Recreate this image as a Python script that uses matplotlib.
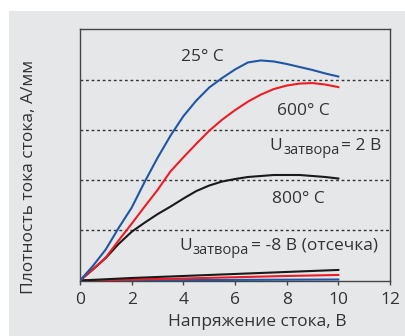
import matplotlib
matplotlib.use("Agg")
import matplotlib.pyplot as plt
from matplotlib.patches import Rectangle
from matplotlib.transforms import offset_copy

plt.rcParams['font.family'] = ['Open Sans', 'DejaVu Sans']

# Drain voltage, V
voltage = [0, 0.5, 1, 1.5, 2, 2.5, 3, 3.5, 4, 4.5, 5, 5.5, 6, 6.5, 7, 7.5, 8, 8.5, 9, 9.5, 10]
# U_gate = 2 V curves
on_25 = [0, 0.29, 0.62, 1.05, 1.45, 1.96, 2.44, 2.88, 3.27, 3.58, 3.84, 4.03, 4.2, 4.34, 4.38, 4.36, 4.31, 4.25, 4.19, 4.12, 4.06]
on_600 = [0, 0.22, 0.46, 0.8, 1.13, 1.47, 1.8, 2.17, 2.45, 2.72, 2.98, 3.2, 3.39, 3.56, 3.7, 3.81, 3.88, 3.92, 3.93, 3.9, 3.85]
on_800 = [0, 0.22, 0.45, 0.73, 0.97, 1.15, 1.32, 1.47, 1.63, 1.78, 1.89, 1.97, 2.02, 2.06, 2.08, 2.1, 2.1, 2.1, 2.08, 2.06, 2.03]
# U_gate = -8 V (cut-off)
off_voltage = [0, 2, 4, 6, 8, 10]
off_25 = [0, 0.004, 0.008, 0.012, 0.016, 0.02]
off_600 = [0, 0.02, 0.04, 0.065, 0.09, 0.11]
off_800 = [0, 0.05, 0.09, 0.13, 0.17, 0.21]

grid_levels = [1, 2, 3, 4]
xticks = [0, 2, 4, 6, 8, 10, 12]

BG = '#e6e7e8'
BLUE = '#1f56a5'
RED = '#ee1c25'
BLACK = '#1a1a1a'
TXT = '#333333'

fig = plt.figure(figsize=(4.06, 3.36), dpi=100, facecolor='white')
fig.patches.append(Rectangle((9/406, 0), 1 - 9/406, (336 - 11)/336,
                             transform=fig.transFigure, facecolor=BG,
                             edgecolor='none', zorder=-10))
ax = fig.add_axes([80/406, (336 - 280.5)/336, (390 - 80)/406, (280.5 - 29.3)/336])
ax.set_facecolor(BG)

for lv in grid_levels:
    ax.axhline(lv, color=TXT, lw=1.0, ls=(0, (2, 2)), zorder=1)

ax.plot(off_voltage, off_25, color=BLUE, lw=1.5, zorder=3)
ax.plot(off_voltage, off_600, color=RED, lw=1.5, zorder=3)
ax.plot(off_voltage, off_800, color=BLACK, lw=1.5, zorder=3)
ax.plot(voltage, on_800, color=BLACK, lw=1.5, zorder=3)
ax.plot(voltage, on_600, color=RED, lw=1.5, zorder=3)
ax.plot(voltage, on_25, color=BLUE, lw=1.5, zorder=3)

ax.set_xlim(0, 12)
ax.set_ylim(0, 5)
ax.set_xticks(xticks)
ax.set_yticks([])
ax.tick_params(axis='x', length=3, width=1, color='#444444', labelsize=12.5,
               labelcolor=TXT, pad=5)
for s in ax.spines.values():
    s.set_color('#444444')
    s.set_linewidth(1.0)

fs = 12.5
sub_fs = 10.5
ax.text(4.75, 4.45, '25° C', fontsize=fs, color=TXT, ha='center', va='center')
ax.text(8.65, 3.38, '600° C', fontsize=fs, color=TXT, ha='center', va='center')
ax.text(8.45, 1.62, '800° C', fontsize=fs, color=TXT, ha='center', va='center')

fig.canvas.draw()
renderer = fig.canvas.get_renderer()


def gate_label(x_left, y_base, rest):
    """Draw 'U' + subscript 'затвора' + rest, starting at data x_left, baseline y_base."""
    t1 = ax.text(x_left, y_base, 'U', fontsize=fs, color=TXT, ha='left', va='baseline')
    w1 = t1.get_window_extent(renderer).width * 72 / fig.dpi
    tr = offset_copy(ax.transData, fig=fig, x=w1 + 0.4, y=-3.0, units='points')
    t2 = ax.text(x_left, y_base, 'затвора', fontsize=sub_fs, color=TXT,
                 ha='left', va='baseline', transform=tr)
    w2 = t2.get_window_extent(renderer).width * 72 / fig.dpi
    tr3 = offset_copy(ax.transData, fig=fig, x=w1 + w2 + 1.6, y=0, units='points')
    ax.text(x_left, y_base, rest, fontsize=fs, color=TXT, ha='left', va='baseline',
            transform=tr3)


gate_label(7.35, 2.6, '= 2 B')
gate_label(3.85, 0.61, '= -8 B (отсечка)')

fig.text(257/406, 1 - 322/336, 'Напряжение стока, В', fontsize=fs, color=TXT,
         ha='center', va='center')
fig.text(29/406, 1 - 177/336, 'Плотность тока стока, А/мм', fontsize=fs, color=TXT,
         ha='center', va='center', rotation=90)

fig.savefig('out.png', dpi=100, facecolor=fig.get_facecolor())
